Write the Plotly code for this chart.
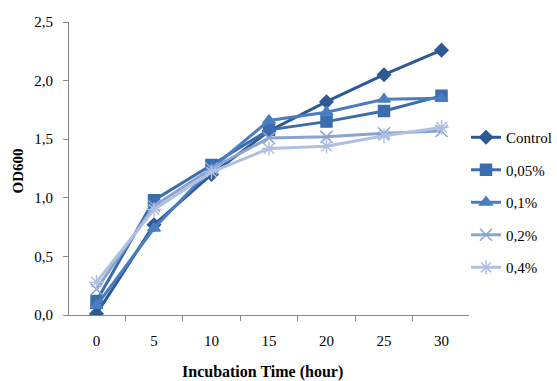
import plotly.graph_objects as go

hours = ["0", "5", "10", "15", "20", "25", "30"]
series_names = ["Control", "0,05%", "0,1%", "0,2%", "0,4%"]
control = [0.01, 0.77, 1.20, 1.57, 1.82, 2.05, 2.26]
c005 = [0.12, 0.98, 1.28, 1.58, 1.65, 1.74, 1.87]
c01 = [0.08, 0.74, 1.25, 1.66, 1.73, 1.84, 1.85]
c02 = [0.22, 0.93, 1.25, 1.51, 1.52, 1.55, 1.57]
c04 = [0.28, 0.90, 1.22, 1.42, 1.44, 1.53, 1.60]
y_ticks = [0.0, 0.5, 1.0, 1.5, 2.0, 2.5]

values = [control, c005, c01, c02, c04]
colors = ["#2E5A94", "#3B6DAE", "#4A7DC0", "#8AA4CF", "#AFC0E0"]
symbols = ["diamond", "square", "triangle-up", "x-thin-open", "asterisk-open"]
msizes = [10, 11, 11, 12, 12]

FONT = "Liberation Serif, Times New Roman, DejaVu Serif, serif"
fig = go.Figure()

for name, vals, col, sym, ms in zip(series_names, values, colors, symbols, msizes):
    fig.add_trace(go.Scatter(
        x=hours, y=vals, name=name, mode="lines+markers",
        line=dict(color=col, width=3),
        marker=dict(symbol=sym, size=ms, color=col, line=dict(color=col, width=1.5)),
        legendgroup=name,
    ))

PW = 557 - 69  # paper width inside margins
fig.update_layout(
    width=557, height=381,
    margin=dict(l=69, r=0, t=22, b=66),
    paper_bgcolor="white", plot_bgcolor="white",
    separators=",.",
    font=dict(family=FONT, size=15, color="black"),
    showlegend=True,
    legend=dict(x=1.0, y=0.662, xanchor="right", yanchor="top",
                font=dict(family=FONT, size=15, color="black"),
                tracegroupgap=10, bgcolor="rgba(0,0,0,0)", itemwidth=30),
    xaxis=dict(type="category", categoryorder="array", categoryarray=hours,
               domain=[0, 400 / PW],
               tickson="boundaries", ticks="outside", ticklen=5, tickcolor="#868686",
               showline=True, linecolor="#868686", linewidth=1, showgrid=False,
               zeroline=False, tickfont=dict(family=FONT, size=15),
               ticklabelstandoff=12),
    yaxis=dict(range=[0, 2.5], tickvals=y_ticks, tickformat=".1f",
               ticks="outside", ticklen=5, tickcolor="#868686",
               showline=True, linecolor="#868686", linewidth=1, showgrid=False,
               zeroline=False, tickfont=dict(family=FONT, size=15),
               ticklabelstandoff=7),
)

fig.add_annotation(text="<b>Incubation Time (hour)</b>", xref="paper", yref="paper",
                   x=(262 - 69) / PW, y=-0.196, showarrow=False, yanchor="middle",
                   font=dict(family=FONT, size=16, color="black"))
fig.add_annotation(text="<b>OD600</b>", xref="paper", yref="paper",
                   x=(18 - 69) / PW, y=0.49, textangle=-90, showarrow=False,
                   xanchor="center", yanchor="middle",
                   font=dict(family=FONT, size=15, color="black"))

fig.write_html("out.html")
